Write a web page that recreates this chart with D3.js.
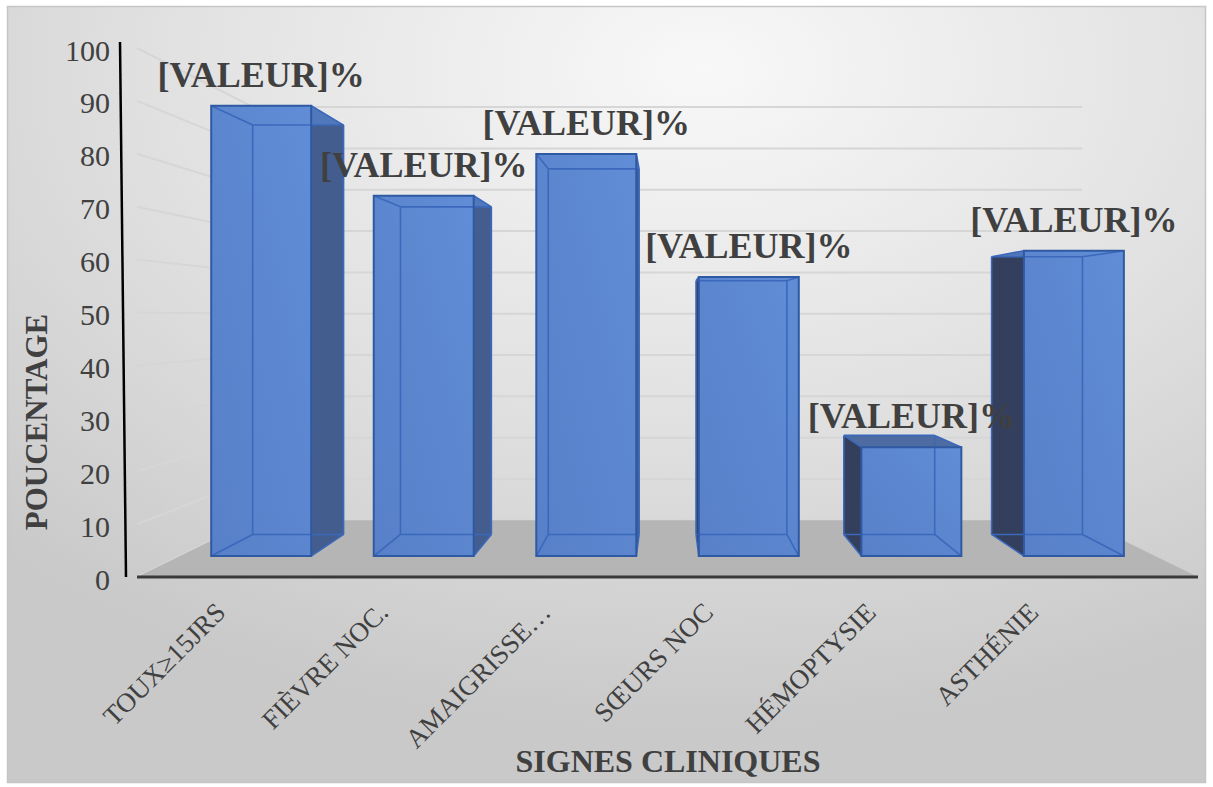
<!DOCTYPE html>
<html>
<head>
<meta charset="utf-8">
<script src="https://cdn.jsdelivr.net/npm/d3@7"></script>
<style>
  html, body { margin: 0; padding: 0; background: #ffffff; }
  svg { display: block; }
</style>
</head>
<body>
<svg id="chart" width="1213" height="787"></svg>
<script>
// Clinical signs (percentage of patients)
const categories = ["TOUX≥15JRS", "FIÈVRE NOC.", "AMAIGRISSE…", "SŒURS NOC", "HÉMOPTYSIE", "ASTHÉNIE"];
const values = [92.6, 74.1, 82.7, 57.4, 22.4, 62.8];
const dataLabels = ["[VALEUR]%", "[VALEUR]%", "[VALEUR]%", "[VALEUR]%", "[VALEUR]%", "[VALEUR]%"];
const yTicks = [0, 10, 20, 30, 40, 50, 60, 70, 80, 90, 100];
const yTitle = "POUCENTAGE";
const xTitle = "SIGNES CLINIQUES";

const svg = d3.select("#chart");
const defs = svg.append("defs");

// Front-plane scales (depth z = 0)
const x = d3.scaleBand().domain(categories).range([137, 1198])
  .paddingInner(0.385).paddingOuter(0.1925);
const y = d3.scaleLinear().domain([0, 100]).range([577, 48]);

// One-point perspective: depth z in [0,1] from front edge of floor to back wall
const vp = { x: 668, y: 318 };
const persp = 0.28;
const scaleAt = z => 1 / (1 + persp * z);
const project = (px, py, z) => {
  const s = scaleAt(z);
  return [vp.x + (px - vp.x) * s, vp.y + (py - vp.y) * s];
};
const barZ = [0.314, 0.702];

// Background
const bg = defs.append("radialGradient").attr("id", "bgGrad")
  .attr("cx", 0.58).attr("cy", 0.08).attr("r", 0.85);
bg.append("stop").attr("offset", 0).attr("stop-color", "#f8f8f8");
bg.append("stop").attr("offset", 0.55).attr("stop-color", "#e0e0e0");
bg.append("stop").attr("offset", 1).attr("stop-color", "#c9c9c9");

svg.append("rect").attr("x", 7.5).attr("y", 6.5).attr("width", 1198).attr("height", 776)
  .attr("fill", "url(#bgGrad)").attr("stroke", "#c6c6c6").attr("stroke-width", 1.5);

const line = d3.line();
const poly = pts => line(pts) + "Z";

// Gridlines: side wall (left) and back wall
const gridG = svg.append("g").attr("stroke", "#d6d6d6").attr("stroke-width", 2).attr("fill", "none");
const x0 = x.range()[0], x1 = x.range()[1];
yTicks.forEach(t => {
  gridG.append("path").attr("d", line([project(x0, y(t), 0), project(x0, y(t), 1)]));
  gridG.append("path").attr("d", line([project(x0, y(t), 1), project(x1, y(t), 1)]));
});

// Floor
svg.append("path")
  .attr("d", poly([project(x0, y(0), 0), project(x1, y(0), 0), project(x1, y(0), 1), project(x0, y(0), 1)]))
  .attr("fill", "#b5b5b5");

// Category axis line along the front edge of the floor
svg.append("path").attr("d", line([project(x0, y(0), 0), project(x1, y(0), 0)]))
  .attr("stroke", "#3a3a3a").attr("stroke-width", 3);

// Value axis line
svg.append("path").attr("d", line([[120, y(100) - 6], [126, y(0)]]))
  .attr("stroke", "#000000").attr("stroke-width", 2.5);

// Tick labels
svg.append("g").selectAll("text").data(yTicks).join("text")
  .attr("x", 110).attr("y", d => y(d) + 2)
  .attr("text-anchor", "end").attr("dominant-baseline", "central")
  .attr("font-family", "'Liberation Serif', 'Times New Roman', serif")
  .attr("font-size", 30).attr("fill", "#404040")
  .text(d => d);

// Bars as translucent 3-D boxes
const frontFill = defs.append("linearGradient").attr("id", "frontGrad")
  .attr("x1", 0).attr("y1", 1).attr("x2", 1).attr("y2", 0);
frontFill.append("stop").attr("offset", 0).attr("stop-color", "#5780c8");
frontFill.append("stop").attr("offset", 1).attr("stop-color", "#608dd6");

const barsG = svg.append("g");
categories.forEach((c, i) => {
  const v = values[i];
  const xl = x(c), xr = xl + x.bandwidth();
  const yb = y(0), yt = y(v);
  const [zf, zb] = barZ;
  const FTL = project(xl, yt, zf), FTR = project(xr, yt, zf), FBR = project(xr, yb, zf), FBL = project(xl, yb, zf);
  const BTL = project(xl, yt, zb), BTR = project(xr, yt, zb), BBR = project(xr, yb, zb), BBL = project(xl, yb, zb);
  const g = barsG.append("g");

  // side face
  if (xr <= vp.x) {
    g.append("path").attr("d", poly([FTR, BTR, BBR, FBR])).attr("fill", "#435e8e");
  } else if (xl >= vp.x) {
    g.append("path").attr("d", poly([FTL, BTL, BBL, FBL])).attr("fill", "#333f5c");
  }
  // top face
  g.append("path").attr("d", poly([FTL, FTR, BTR, BTL]))
    .attr("fill", yt < vp.y ? "#5279be" : "#46649e").attr("opacity", 0.95);
  // front face
  g.append("path").attr("d", poly([FTL, FTR, FBR, FBL])).attr("fill", "url(#frontGrad)");

  // hidden edges seen through the translucent box
  const inner = [[BTL, BTR], [BTR, BBR], [BBR, BBL], [BBL, BTL], [FTL, BTL], [FTR, BTR], [FBR, BBR], [FBL, BBL]];
  inner.forEach(seg => g.append("path").attr("d", line(seg))
    .attr("stroke", "#3b68bb").attr("stroke-width", 1.6).attr("fill", "none"));
  // front outline
  g.append("path").attr("d", poly([FTL, FTR, FBR, FBL]))
    .attr("stroke", "#2f5aa3").attr("stroke-width", 2).attr("fill", "none");
});

// Data labels
svg.append("g").selectAll("text").data(categories).join("text")
  .attr("x", c => project(x(c) + x.bandwidth() / 2, y(0), barZ[0])[0])
  .attr("y", (c, i) => project(x(c), y(values[i]), barZ[0])[1] - 31)
  .attr("text-anchor", "middle").attr("dominant-baseline", "central")
  .attr("font-family", "'Liberation Serif', 'Times New Roman', serif")
  .attr("font-weight", "bold").attr("font-size", 36).attr("fill", "#404040")
  .text((c, i) => dataLabels[i]);

// Category labels
svg.append("g").selectAll("text").data(categories).join("text")
  .attr("transform", c => {
    const cx = project(x(c) + x.bandwidth() / 2, y(0), barZ[0])[0];
    return `translate(${cx - 34},614) rotate(-45)`;
  })
  .attr("text-anchor", "end")
  .attr("font-family", "'Liberation Serif', 'Times New Roman', serif")
  .attr("font-size", 27).attr("fill", "#404040")
  .text(d => d);

// Axis titles
svg.append("text")
  .attr("transform", "translate(36,422) rotate(-90)")
  .attr("text-anchor", "middle").attr("dominant-baseline", "central")
  .attr("font-family", "'Liberation Serif', 'Times New Roman', serif")
  .attr("font-weight", "bold").attr("font-size", 31).attr("fill", "#404040")
  .text(yTitle);

svg.append("text")
  .attr("x", vp.x).attr("y", 761)
  .attr("text-anchor", "middle").attr("dominant-baseline", "central")
  .attr("font-family", "'Liberation Serif', 'Times New Roman', serif")
  .attr("font-weight", "bold").attr("font-size", 32).attr("fill", "#404040")
  .text(xTitle);
</script>
</body>
</html>
